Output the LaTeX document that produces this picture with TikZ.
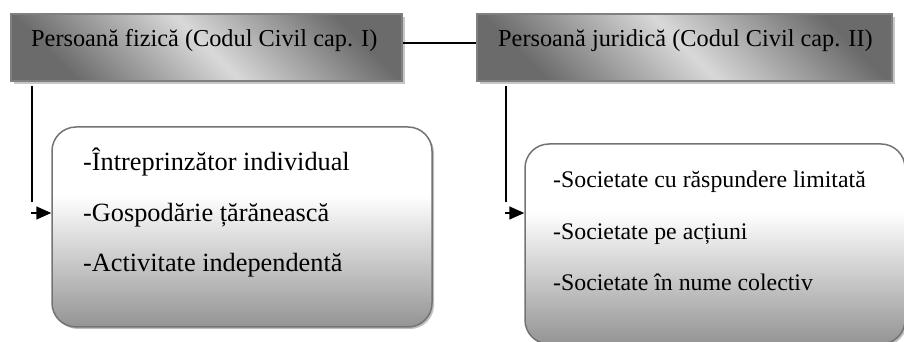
\documentclass[tikz,border=0pt]{standalone}
\usepackage{fontspec}
\setmainfont{Liberation Serif}
\usetikzlibrary{arrows.meta, shadows}

% white top, grey bottom for the two list boxes
\pgfdeclareverticalshading{listgrad}{100bp}{color(0bp)=(black!42); color(25bp)=(black!42); color(58bp)=(white); color(75bp)=(white); color(100bp)=(white)}

\tikzset{
	headbox/.style={draw=black!50, line width=2pt,
		top color=black!58, bottom color=black!58, middle color=black!15, shading angle=-45,
		minimum width=#1, minimum height=67pt, inner sep=0pt,
		drop shadow={shadow xshift=3pt, shadow yshift=-3pt, fill=black!22, opacity=1}},
	listbox/.style={draw=black!55, line width=1.5pt, rounded corners=24pt, shading=listgrad,
		minimum width=380pt, minimum height=200pt, inner sep=0pt,
		drop shadow={shadow xshift=2pt, shadow yshift=-2pt, fill=black!25, opacity=1}},
	headtext/.style={anchor=base west, inner sep=0pt, font=\fontsize{24.3}{29}\selectfont},
	itemL/.style={anchor=base west, inner sep=0pt, font=\fontsize{26.3}{31}\selectfont},
	itemR/.style={anchor=base west, inner sep=0pt, font=\fontsize{23.8}{28}\selectfont},
	conn/.style={line width=1.6pt, black},
	arr/.style={conn, -{Triangle[length=15pt, width=13pt]}}
}

\begin{document}
\begin{tikzpicture}[x=1pt, y=1pt]
		\useasboundingbox (0,0) rectangle (904,342);
		
		% Header boxes
		\node[headbox=391pt] (fiz) at (206.5,294.5) {};
		\node[headtext] (fiztxt) at (31,295) {Persoană fizică (Codul Civil cap. I)};
		
		\node[headbox=415pt] (jur) at (684.5,294.5) {};
		\node[headtext] (jurtxt) at (498,295) {Persoană juridică (Codul Civil cap. II)};
		
		% Link between the headers
		\draw[conn] ([yshift=4.5pt]fiz.east) -- ([yshift=4.5pt]jur.west);
		
		% List boxes
		\node[listbox] (fizlist) at (242,115) {};
		\node[itemL] (fiz1) at (83,171) {-Întreprinzător individual};
		\node[itemL] (fiz2) at (83,120.5) {-Gospodărie țărănească};
		\node[itemL] (fiz3) at (83,70) {-Activitate independentă};
		
		\node[listbox] (jurlist) at (715,98) {};
		\node[itemR] (jur1) at (553,154) {-Societate cu răspundere limitată};
		\node[itemR] (jur2) at (553,102.5) {-Societate pe acțiuni};
		\node[itemR] (jur3) at (553,51) {-Societate în nume colectiv};
		
		% Down lines and arrows into the lists
		\draw[conn] ([xshift=22pt, yshift=-4pt]fiz.south west) -- ++(0,-116);
		\draw[arr] ([xshift=-20pt, yshift=14pt]fizlist.west) -- ([yshift=14pt]fizlist.west);
		
		\draw[conn] ([xshift=30pt, yshift=-4pt]jur.south west) -- ++(0,-116);
		\draw[arr] ([xshift=-19pt, yshift=31pt]jurlist.west) -- ([yshift=31pt]jurlist.west);
	\end{tikzpicture}
\end{document}
